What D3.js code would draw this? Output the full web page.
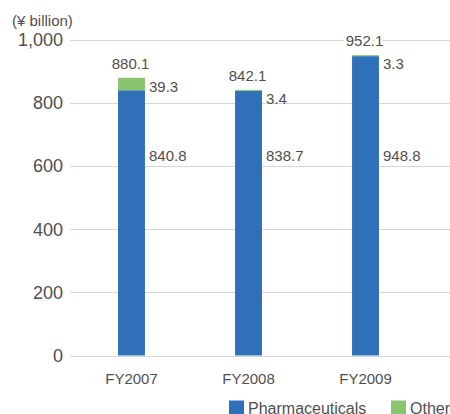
<!DOCTYPE html>
<html>
<head>
<meta charset="utf-8">
<script src="https://cdn.jsdelivr.net/npm/d3@7"></script>
<style>
  html, body { margin: 0; padding: 0; background: #fff; }
  svg { display: block; font-family: "Liberation Sans", Arial, sans-serif; }
</style>
</head>
<body>
<svg id="chart" width="450" height="414"></svg>
<script>
// Net sales by segment, ¥ billion
const years = ["FY2007", "FY2008", "FY2009"];
const pharmaceuticals = [840.8, 838.7, 948.8];
const others = [39.3, 3.4, 3.3];
const totals = [880.1, 842.1, 952.1];
const yTicks = [0, 200, 400, 600, 800, 1000];
const seriesNames = ["Pharmaceuticals", "Others"];
const seriesColors = ["#3070b9", "#89c46f"];

const svg = d3.select("#chart");
const textColor = "#4f4f4f";

const x = d3.scaleBand()
  .domain(years)
  .range([73, 424])
  .paddingInner(0.77)
  .paddingOuter(0.385);

const y = d3.scaleLinear().domain([0, 1000]).range([355.5, 40]);

// tick labels
const yAxis = d3.axisLeft(y)
  .tickValues(yTicks)
  .tickFormat(d3.format(","))
  .tickSize(0)
  .tickPadding(0);

const gy = svg.append("g").attr("transform", "translate(63,0)").call(yAxis);
gy.select(".domain").remove();
gy.selectAll(".tick text")
  .attr("fill", textColor)
  .attr("font-size", 18)
  .attr("font-family", "Liberation Sans, Arial, sans-serif");

// gridlines
svg.append("g").selectAll("line")
  .data(yTicks)
  .join("line")
  .attr("x1", 70).attr("x2", 450)
  .attr("y1", d => Math.round(y(d)) + 0.5)
  .attr("y2", d => Math.round(y(d)) + 0.5)
  .attr("stroke", "#d6d6d6")
  .attr("stroke-width", 1.2);

// unit label
svg.append("text")
  .attr("x", 12).attr("y", 26)
  .attr("fill", textColor)
  .attr("font-size", 15)
  .text("(¥ billion)");

// stacked bars
const rows = years.map((yr, i) => ({ yr, p: pharmaceuticals[i], o: others[i], t: totals[i] }));
const bw = x.bandwidth();

const bars = svg.append("g");
bars.selectAll(".pharma")
  .data(rows).join("rect")
  .attr("x", d => x(d.yr)).attr("width", bw)
  .attr("y", d => y(d.p)).attr("height", d => y(0) - y(d.p))
  .attr("fill", seriesColors[0]);
bars.selectAll(".others")
  .data(rows).join("rect")
  .attr("x", d => x(d.yr)).attr("width", bw)
  .attr("y", d => y(d.p + d.o)).attr("height", d => y(d.p) - y(d.p + d.o))
  .attr("fill", seriesColors[1]);

// value labels
const labels = svg.append("g").attr("fill", textColor).attr("font-size", 15);

labels.selectAll(".total")
  .data(rows).join("text")
  .attr("x", d => x(d.yr) + bw / 2 - 1)
  .attr("y", d => y(d.t) - 9)
  .attr("text-anchor", "middle")
  .attr("stroke", "#fff").attr("stroke-width", 5)
  .attr("paint-order", "stroke")
  .attr("stroke-linejoin", "round")
  .text(d => d3.format(".1f")(d.t));

labels.selectAll(".oth")
  .data(rows).join("text")
  .attr("x", d => x(d.yr) + bw + 4)
  .attr("y", d => y(d.p + d.o) + 9)
  .attr("dy", "0.35em")
  .text(d => d3.format(".1f")(d.o));

labels.selectAll(".pha")
  .data(rows).join("text")
  .attr("x", d => x(d.yr) + bw + 4)
  .attr("y", y(632))
  .attr("dy", "0.35em")
  .text(d => d3.format(".1f")(d.p));

// category axis
const xAxis = d3.axisBottom(x).tickSize(0).tickPadding(0);
const gx = svg.append("g").attr("transform", "translate(0,370)").call(xAxis);
gx.select(".domain").remove();
gx.selectAll(".tick text")
  .attr("fill", textColor)
  .attr("font-size", 15)
  .attr("font-family", "Liberation Sans, Arial, sans-serif")
  .attr("dy", "0.95em");

// legend
const legend = svg.append("g");
const legendX = [229, 391];
seriesNames.forEach((name, i) => {
  legend.append("rect")
    .attr("x", legendX[i]).attr("y", 400.5)
    .attr("width", 15).attr("height", 15)
    .attr("fill", seriesColors[i]);
  legend.append("text")
    .attr("x", legendX[i] + 19).attr("y", 413.5)
    .attr("fill", textColor)
    .attr("font-size", 16)
    .text(name);
});
</script>
</body>
</html>
